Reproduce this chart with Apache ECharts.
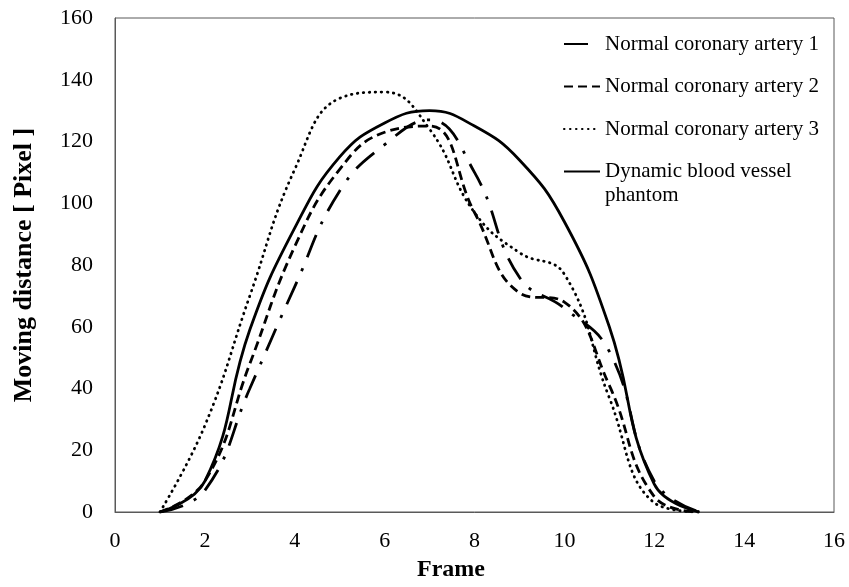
<!DOCTYPE html>
<html>
<head>
<meta charset="utf-8">
<script src="https://cdn.jsdelivr.net/npm/echarts@6/dist/echarts.min.js"></script>
<style>
  html, body { margin: 0; padding: 0; background: #fff; }
  #chart { width: 849px; height: 587px; }
</style>
</head>
<body>
<div id="chart"></div>
<script>
// Frame numbers at which the moving distance was measured
const frames = [1, 2, 3, 4, 5, 6, 7, 8, 9, 10, 11, 12, 13];

// Moving distance [Pixel] per frame
const artery1 = [0, 7, 40, 73, 104, 119, 127, 110, 76, 66, 52, 10, 0];
const artery2 = [0, 10, 48, 86, 111, 123, 125, 97, 71, 68, 41, 5, 0];
const artery3 = [0, 28, 70, 111, 134, 136, 124, 97, 84, 77, 37, 3, 0];
const phantom = [0, 10, 59, 92, 115, 126, 130, 125, 114, 94, 60, 9, 0];

const seriesNames = [
  'Normal coronary artery 1',
  'Normal coronary artery 2',
  'Normal coronary artery 3',
  'Dynamic blood vessel phantom'
];

const xTicks = { min: 0, max: 16, interval: 2 };
const yTicks = { min: 0, max: 160, interval: 20 };

const serif = '"Liberation Serif", "Times New Roman", serif';
const axisGrey = '#595959';

function pairs(values) {
  return frames.map((f, i) => [f, values[i]]);
}

function lineSeries(name, values, lineType, cap) {
  return {
    name: name,
    type: 'line',
    data: pairs(values),
    smooth: 0.45,
    symbol: 'none',
    itemStyle: { color: 'rgba(0,0,0,0)' },
    lineStyle: { color: '#000', width: 2.8, type: lineType, cap: cap || 'butt' },
    emphasis: { disabled: true }
  };
}

const legendText = { fontFamily: serif, fontSize: 21, color: '#000', lineHeight: 24 };

const chart = echarts.init(document.getElementById('chart'), null, { renderer: 'canvas' });

chart.setOption({
  backgroundColor: '#fff',
  animation: false,
  grid: {
    left: 115, right: 15, top: 18, bottom: 71,
    show: true, borderColor: axisGrey, borderWidth: 1
  },
  legend: [
    {
      orient: 'vertical',
      left: 563,
      top: 32,
      padding: 0,
      itemWidth: 36,
      itemHeight: 14,
      itemGap: 18.5,
      selectedMode: false,
      textStyle: legendText,
      data: [seriesNames[0], seriesNames[1], seriesNames[2]]
    },
    {
      // two-line entry: an empty first line keeps the marker beside "Dynamic blood vessel"
      orient: 'vertical',
      left: 563,
      top: 135.5,
      padding: 0,
      itemWidth: 36,
      itemHeight: 14,
      selectedMode: false,
      textStyle: legendText,
      data: [seriesNames[3]],
      formatter: function () {
        return ' \nDynamic blood vessel\nphantom';
      }
    }
  ],
  xAxis: {
    type: 'value',
    min: xTicks.min, max: xTicks.max, interval: xTicks.interval,
    name: 'Frame',
    nameLocation: 'middle',
    nameGap: 46,
    nameTextStyle: { fontFamily: serif, fontSize: 24, fontWeight: 'bold', color: '#000', padding: [0, 47, 0, 0] },
    axisLine: { show: true, lineStyle: { color: axisGrey, width: 1 } },
    axisTick: { show: false },
    splitLine: { show: false },
    axisLabel: { fontFamily: serif, fontSize: 22, color: '#000', margin: 18 }
  },
  yAxis: {
    type: 'value',
    min: yTicks.min, max: yTicks.max, interval: yTicks.interval,
    name: 'Moving distance [ Pixel ]',
    nameLocation: 'middle',
    nameGap: 78,
    nameTextStyle: { fontFamily: serif, fontSize: 26, fontWeight: 'bold', color: '#000' },
    axisLine: { show: true, lineStyle: { color: axisGrey, width: 1 } },
    axisTick: { show: false },
    splitLine: { show: false },
    axisLabel: { fontFamily: serif, fontSize: 22, color: '#000', margin: 22 }
  },
  series: [
    lineSeries(seriesNames[0], artery1, [24, 12, 3, 12]),
    lineSeries(seriesNames[1], artery2, [9, 5]),
    lineSeries(seriesNames[2], artery3, [0.5, 5.5], 'round'),
    lineSeries(seriesNames[3], phantom, 'solid')
  ]
});
</script>
</body>
</html>
